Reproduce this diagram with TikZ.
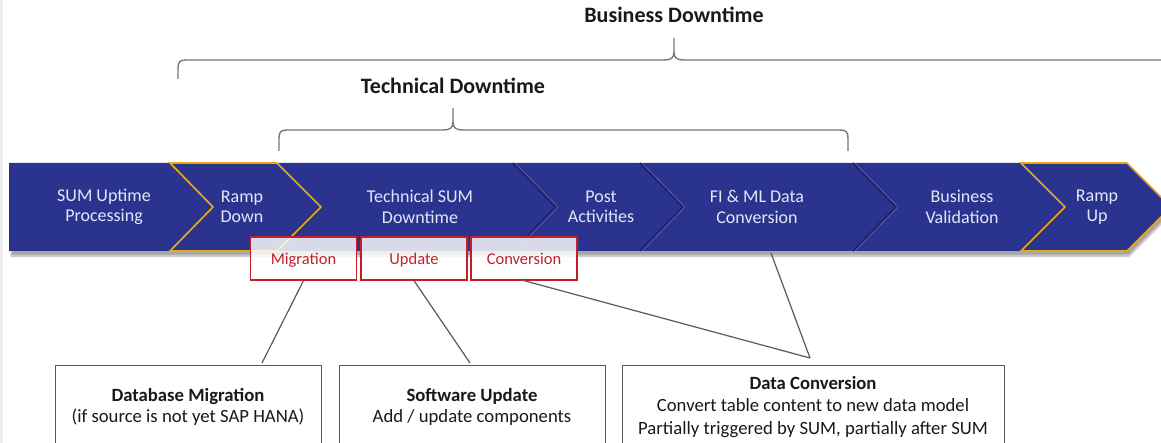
\documentclass[tikz,border=0pt]{standalone}
\usepackage{fontspec}
\setmainfont{Carlito}
\usetikzlibrary{shadows.blur}
\definecolor{bandc}{RGB}{42,52,142}
\definecolor{labtext}{RGB}{228,230,246}
\definecolor{goldc}{RGB}{232,168,24}
\definecolor{redc}{RGB}{196,30,40}
\definecolor{greyc}{RGB}{89,89,89}
\definecolor{brkc}{RGB}{120,120,120}
\definecolor{sepdark}{RGB}{24,30,90}
\definecolor{seplight}{RGB}{100,108,175}
\tikzset{
  lab/.style={text=labtext, align=center, inner sep=0pt, font=\fontsize{18}{20.5}\selectfont},
  rbox/.style={draw=redc, line width=1.3pt, fill=white, fill opacity=0.82, text opacity=1, text=redc,
    minimum width=106, minimum height=43, inner sep=0pt, text depth=0pt, text height=13pt,
    font=\fontsize{16.5}{18}\selectfont},
  titl/.style={font=\bfseries\fontsize{22}{24}\selectfont, text=black!90, inner sep=0pt},
  brk/.style={draw=brkc, line width=1.4pt},
  bbox/.style={draw=greyc, line width=1.3pt, fill=white, anchor=north west, minimum height=110, inner sep=0pt},
  btxt/.style={align=center, anchor=base, inner sep=0pt, text=black!90},
  conn/.style={draw=greyc, line width=1.2pt},
  goldline/.style={draw=goldc, line width=1.7pt, line join=miter},
}
\begin{document}
\begin{tikzpicture}[x=1pt,y=-1pt]
\useasboundingbox (0,0) rectangle (1161,443);
\clip (0,0) rectangle (1161,443);
\fill[black!7] (0,0) rectangle (3,443);

% titles and brackets
\node[titl] (bd) at (674,15) {Business Downtime};
\node[titl] (td) at (453,86) {Technical Downtime};
\draw[brk] (178,79) -- (178,68) .. controls (178,62) and (180,60) .. (186,60) -- (664,60) .. controls (671,60) and (674,58) .. (674,52) -- (674,38);
\draw[brk] (674,52) .. controls (674,58) and (677,60) .. (684,60) -- (1170,60);
\draw[brk] (279,151) -- (279,138) .. controls (279,132) and (281,130) .. (287,130) -- (443,130) .. controls (450,130) and (453,128) .. (453,122) -- (453,108);
\draw[brk] (453,122) .. controls (453,128) and (456,130) .. (463,130) -- (840,130) .. controls (846,130) and (848,132) .. (848,138) -- (848,151);

% band
\fill[bandc, blur shadow={shadow xshift=2pt, shadow yshift=-5pt, shadow blur steps=8, shadow opacity=35}]
  (9,163) -- (1127,163) -- (1171,207) -- (1127,251) -- (9,251) -- cycle;
\foreach \a in {515,642,855}{
  \draw[sepdark, line width=2pt, opacity=0.7] (\a-2,163) -- (\a+41,207) -- (\a-2,251);
  \draw[seplight, line width=0.6pt] (\a,163) -- (\a+43,207) -- (\a,251);
}
\draw[goldline] (170,163) -- (277,163) -- (321,207) -- (277,251) -- (170,251) -- (213,207) -- cycle;
\draw[goldline] (1021,163) -- (1127,163) -- (1171,207) -- (1127,251) -- (1021,251) -- (1065,207) -- cycle;

\node[lab] (s1) at (104,207) {SUM Uptime\\Processing};
\node[lab] (s2) at (242,207) {Ramp\\Down};
\node[lab] (s3) at (420,207) {Technical SUM\\Downtime};
\node[lab] (s4) at (601,207) {Post\\Activities};
\node[lab] (s5) at (757,207) {FI \& ML Data\\Conversion};
\node[lab] (s6) at (962,207) {Business\\Validation};
\node[lab] (s7) at (1097,207) {Ramp\\Up};

% red boxes
\node[rbox] (mig) at (303.5,258.5) {Migration};
\node[rbox] (upd) at (414,258.5) {Update};
\node[rbox] (conv) at (524,258.5) {Conversion};

% bottom boxes
\node[bbox, minimum width=266] (db) at (55,365) {};
\node[bbox, minimum width=266] (sw) at (339,365) {};
\node[bbox, minimum width=382] (dc) at (622,365) {};
\node[btxt, font=\fontsize{18.7}{21}\selectfont] (dbt) at (188,422) {\textbf{Database Migration}\\(if source is not yet SAP HANA)};
\node[btxt, font=\fontsize{18.7}{21}\selectfont] (swt) at (472,422) {\textbf{Software Update}\\Add / update components};
\node[btxt, font=\fontsize{18.7}{22.5}\selectfont] (dct) at (813,434) {\textbf{Data Conversion}\\Convert table content to new data model\\Partially triggered by SUM, partially after SUM};

% connectors
\coordinate (dbin) at (262,363);
\coordinate (swin) at (470,363);
\coordinate (meet) at (810,358);
\coordinate (fi) at (771,253);
\draw[conn] (mig.south) -- (dbin);
\draw[conn] (upd.south) -- (swin);
\draw[conn] (conv.south) -- (meet);
\draw[conn] (fi) -- (meet);
\end{tikzpicture}
\end{document}
